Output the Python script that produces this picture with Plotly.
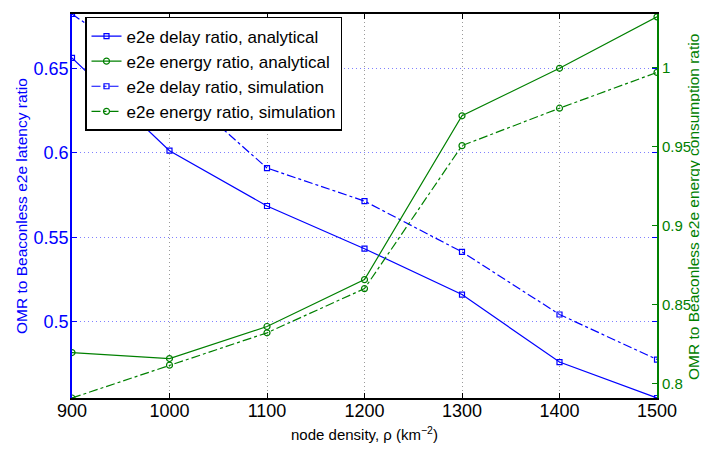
import plotly.graph_objects as go

# ---- data ----
density = [900, 1000, 1100, 1200, 1300, 1400, 1500]
delay_analytical = [0.6563, 0.6013, 0.5685, 0.5432, 0.5160, 0.4760, 0.4547]
delay_simulation = [0.6823, 0.6421, 0.5910, 0.5714, 0.5413, 0.5042, 0.4775]
energy_analytical = [0.8195, 0.8157, 0.8360, 0.8657, 0.9695, 0.9996, 1.0322]
energy_simulation = [0.7907, 0.8115, 0.8320, 0.8600, 0.9506, 0.9743, 0.9970]

x_ticks = [900, 1000, 1100, 1200, 1300, 1400, 1500]
left_ticks = [0.5, 0.55, 0.6, 0.65]
left_ticktext = ["0.5", "0.55", "0.6", "0.65"]
right_ticks = [0.8, 0.85, 0.9, 0.95, 1.0]
right_ticktext = ["0.8", "0.85", "0.9", "0.95", "1"]

BLUE = "#0000ff"
GREEN = "#008000"
FONT = "Liberation Sans, Arial, Helvetica, sans-serif"

# page body has an 8px margin, so the figure is offset by (8, 8)
OFF = 8
PL, PR, PT, PB = 72 - OFF, 51, 12 - OFF, 51
W, H = 708 - OFF, 449 - OFF
PW = W - PL - PR
PH = H - PT - PB


def px_x(x):
    return (x - OFF - PL) / PW


def px_y(y):
    return (H - PB - (y - OFF)) / PH


fig = go.Figure()
fig.add_trace(go.Scatter(
    x=density, y=delay_analytical, name="e2e delay ratio, analytical",
    mode="lines+markers", yaxis="y",
    line=dict(color=BLUE, width=1.2),
    marker=dict(symbol="square-open", size=5, color=BLUE, line=dict(width=1.2)),
))
fig.add_trace(go.Scatter(
    x=density, y=energy_analytical, name="e2e energy ratio, analytical",
    mode="lines+markers", yaxis="y2",
    line=dict(color=GREEN, width=1.2),
    marker=dict(symbol="circle-open", size=6, color=GREEN, line=dict(width=1.2)),
))
fig.add_trace(go.Scatter(
    x=density, y=delay_simulation, name="e2e delay ratio, simulation",
    mode="lines+markers", yaxis="y",
    line=dict(color=BLUE, width=1.2, dash="dashdot"),
    marker=dict(symbol="square-open", size=5, color=BLUE, line=dict(width=1.2)),
))
fig.add_trace(go.Scatter(
    x=density, y=energy_simulation, name="e2e energy ratio, simulation",
    mode="lines+markers", yaxis="y2",
    line=dict(color=GREEN, width=1.2, dash="dashdot"),
    marker=dict(symbol="circle-open", size=6, color=GREEN, line=dict(width=1.2)),
))

fig.update_layout(
    width=W, height=H,
    margin=dict(l=PL, r=PR, t=PT, b=PB),
    paper_bgcolor="white", plot_bgcolor="white",
    font=dict(family=FONT, color="black"),
    showlegend=True,
    legend=dict(
        x=px_x(85), y=px_y(15), xanchor="left", yanchor="top",
        bgcolor="white", bordercolor="black", borderwidth=1.5,
        font=dict(size=17, family=FONT, color="black"),
        tracegroupgap=0,
    ),
    xaxis=dict(
        range=[900, 1500], tickvals=x_ticks,
        ticks="inside", ticklen=5, tickcolor="black",
        showline=True, linecolor="black", linewidth=1.5, mirror="ticks",
        showgrid=True, gridcolor="#9a9a9a", griddash="1px,3px", gridwidth=1,
        zeroline=False, ticklabelstandoff=-4,
        tickfont=dict(size=18, family=FONT, color="black"),
    ),
    yaxis=dict(
        range=[0.4547, 0.6823], tickvals=left_ticks, ticktext=left_ticktext,
        ticks="inside", ticklen=5, tickcolor=BLUE,
        showline=True, linecolor=BLUE, linewidth=1.5, mirror="ticks",
        showgrid=True, gridcolor="#8080ff", griddash="1px,3px", gridwidth=1,
        zeroline=False, ticklabelstandoff=-2,
        tickfont=dict(size=18, family=FONT, color=BLUE),
    ),
    yaxis2=dict(
        range=[0.7907, 1.034], tickvals=right_ticks, ticktext=right_ticktext,
        overlaying="y", side="right",
        ticks="inside", ticklen=5, tickcolor=GREEN,
        showline=True, linecolor=GREEN, linewidth=2,
        showgrid=False, zeroline=False,
        tickfont=dict(size=15, family=FONT, color=GREEN),
    ),
    annotations=[
        dict(text="node density, ρ (km<sup>−2</sup>)", xref="paper", yref="paper",
             x=0.5, y=px_y(434), xanchor="center", yanchor="middle",
             showarrow=False, font=dict(size=15, family=FONT, color="black")),
        dict(text="OMR to Beaconless e2e latency ratio", xref="paper", yref="paper",
             x=px_x(21), y=px_y(205), xanchor="center", yanchor="middle",
             textangle=-90, showarrow=False,
             font=dict(size=15.5, family=FONT, color=BLUE)),
        dict(text="OMR to Beaconless e2e energy consumption ratio", xref="paper", yref="paper",
             x=px_x(694), y=px_y(206), xanchor="center", yanchor="middle",
             textangle=-90, showarrow=False,
             font=dict(size=15.5, family=FONT, color=GREEN)),
    ],
)

fig.write_html("out.html")
